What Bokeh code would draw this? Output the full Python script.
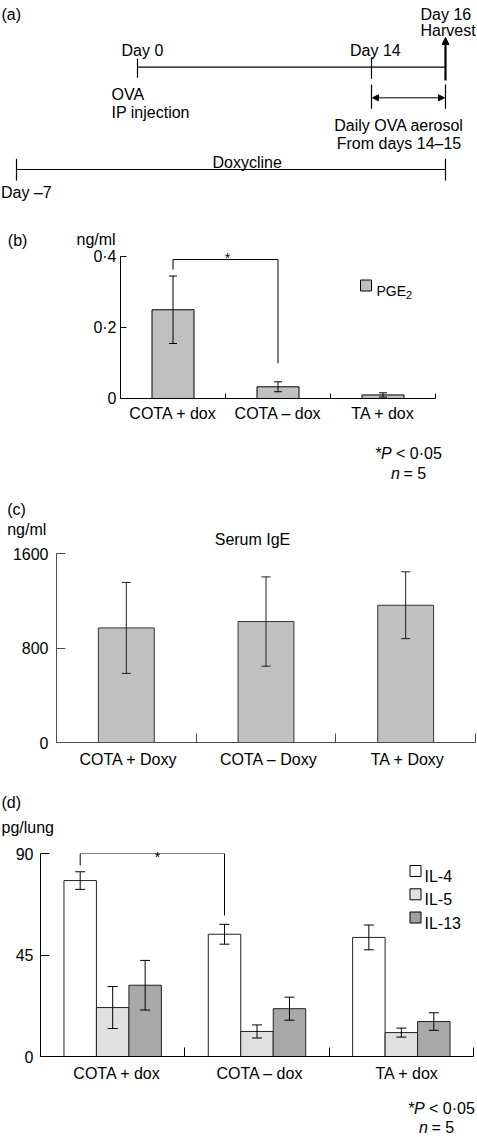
import numpy as np
from bokeh.plotting import figure
from bokeh.models import (Range1d, Label, Whisker, TeeHead, ColumnDataSource,
                          FixedTicker, Arrow, NormalHead)
from bokeh.embed import file_html
from bokeh.resources import INLINE

FONT = "Liberation Sans"

# ---------------- data ----------------
# (a) timeline (schematic, not to scale)
tl_days = [-7, 0, 14, 16]
tl_pos = [16, 137, 371, 445]          # schematic horizontal positions
tl_events = ["OVA", "IP injection"]
tl_aerosol = ["Daily OVA aerosol", "From days 14\u201315"]
tl_drug = "Doxycline"

# (b) PGE2
groups_b = ["COTA + dox", "COTA \u2013 dox", "TA + dox"]
pge2 = [0.250, 0.033, 0.010]
pge2_err = [0.095, 0.014, 0.006]
yticks_b = [0, 0.2, 0.4]
ylabels_b = ["0", "0\u00b72", "0\u00b74"]

# (c) Serum IgE
groups_c = ["COTA + Doxy", "COTA \u2013 Doxy", "TA + Doxy"]
ige = [970, 1024, 1162]
ige_err = [385, 378, 283]
yticks_c = [0, 800, 1600]

# (d) cytokines
groups_d = ["COTA + dox", "COTA \u2013 dox", "TA + dox"]
cyto_names = ["IL-4", "IL-5", "IL-13"]
il4 = [78.0, 54.2, 52.8]
il4_err = [3.9, 4.4, 5.5]
il5 = [21.7, 11.1, 10.6]
il5_err = [9.3, 2.9, 2.0]
il13 = [31.6, 21.2, 15.5]
il13_err = [11.0, 5.1, 3.9]
yticks_d = [0, 45, 90]

W = 477


def add_label(p, x, y, text, size="16px", align="left", style="normal",
              baseline="alphabetic", side=None):
    lbl = Label(x=x, y=y, text=text, text_font=FONT, text_font_size=size,
                text_align=align, text_baseline=baseline,
                text_font_style=style, text_color="black")
    if side is None:
        p.add_layout(lbl)
    else:
        p.add_layout(lbl, side)


def conv(g, px, py):
    l, r, t, b, x0, x1, y0, y1 = g
    return (x0 + (px - l) / (r - l) * (x1 - x0), y0 + (b - py) / (b - t) * (y1 - y0))


def text_fig(top, height):
    """Figure whose frame fills it; data coordinates equal page pixels."""
    return figure(width=W, height=height, x_range=Range1d(0, W),
                  y_range=Range1d(top + height, top), x_axis_type=None, y_axis_type=None,
                  toolbar_location=None, output_backend="svg", min_border=0,
                  outline_line_color=None, title=None)


def bar_fig(height, fig_top, geom, axis_color, ytick_len, ystand, xtick_len, xstand):
    l, r, t, b, x0, x1, y0, y1 = geom
    p = figure(width=W, height=height, x_range=Range1d(x0, x1), y_range=Range1d(y0, y1),
               toolbar_location=None, output_backend="svg", title=None,
               min_border_left=l, min_border_right=W - r,
               min_border_top=t - fig_top, min_border_bottom=(fig_top + height) - b,
               outline_line_color=None)
    p.xgrid.visible = False
    p.ygrid.visible = False
    for ax in (p.xaxis[0], p.yaxis[0]):
        ax.axis_line_color = axis_color
        ax.axis_line_width = 1
        ax.major_label_text_font = FONT
        ax.major_label_text_font_size = "16px"
        ax.major_label_text_color = "black"
        ax.major_tick_out = 0
        ax.minor_tick_out = 0
    p.yaxis.major_tick_in = ytick_len
    p.yaxis.minor_tick_in = 0
    p.yaxis.major_tick_line_color = axis_color
    p.yaxis.major_label_standoff = ystand
    p.xaxis.major_tick_line_color = None
    p.xaxis.minor_tick_in = xtick_len
    p.xaxis.minor_tick_line_color = axis_color
    p.xaxis.major_label_standoff = xstand
    return p


def whisk(p, xs, vals, errs, size, color="black"):
    src = ColumnDataSource(dict(x=list(xs), upper=[v + e for v, e in zip(vals, errs)],
                                lower=[v - e for v, e in zip(vals, errs)]))
    w = Whisker(source=src, base="x", upper="upper", lower="lower", line_color=color,
                line_width=1, level="overlay",
                upper_head=TeeHead(size=size, line_color=color, line_width=1),
                lower_head=TeeHead(size=size, line_color=color, line_width=1))
    p.add_layout(w)


def notes(p, x, y1, y2, dx_n, dx_eq):
    add_label(p, x, y1, "*")
    add_label(p, x + 5.5, y1, "P", style="italic")
    add_label(p, x + 20.5, y1, "< 0\u00b705")
    add_label(p, x + dx_n, y2, "n", style="italic")
    add_label(p, x + dx_n + dx_eq, y2, "= 5")


# ---------------- (a) timeline ----------------
pa = text_fig(0, 215)
xm7, x0, x14, x16 = tl_pos
day_txt = ["Day " + str(d).replace("-", "\u2013") for d in tl_days]

pa.segment(x0=[x0, x0, x14, x14, x16, xm7, xm7, x16],
           y0=[66.7, 58.3, 56.7, 84, 84, 169, 158.3, 158.3],
           x1=[x16, x0, x14, x14, x16, x16, xm7, x16],
           y1=[66.7, 77.3, 78.3, 108.3, 108.3, 169, 180, 180],
           line_color="black", line_width=1.2)
pa.add_layout(Arrow(end=NormalHead(size=7, fill_color="black", line_color="black", line_width=1),
                    x_start=x16, y_start=80, x_end=x16, y_end=37,
                    line_color="black", line_width=2.2))
pa.add_layout(Arrow(start=NormalHead(size=6, fill_color="black", line_color="black", line_width=1),
                    end=NormalHead(size=6, fill_color="black", line_color="black", line_width=1),
                    x_start=x14 + 1, y_start=97.3, x_end=x16 - 1, y_end=97.3,
                    line_color="black", line_width=1))

add_label(pa, 1, 13.5, "(a)")
add_label(pa, 420, 13.5, day_txt[3])
add_label(pa, 420, 29.5, "Harvest")
add_label(pa, 121, 49.5, day_txt[1])
add_label(pa, 349.5, 49.5, day_txt[2])
add_label(pa, 111, 93.5, tl_events[0])
add_label(pa, 111, 111.5, tl_events[1])
add_label(pa, 398.5, 125, tl_aerosol[0], align="center")
add_label(pa, 398.5, 143.3, tl_aerosol[1], align="center")
add_label(pa, 246.7, 161.7, tl_drug, align="center")
add_label(pa, 0.5, 191.7, day_txt[0])

# ---------------- (b) PGE2 ----------------
GB = (120, 435, 256, 398, 0, 3, 0, 0.4)
pb = bar_fig(215, 215, GB, "black", 6, 4, 5, 6)
xb = np.arange(3) + 0.5
pb.vbar(x=xb, top=pge2, width=0.4, fill_color="#c0c0c0", line_color="black", line_width=1)
whisk(pb, xb, pge2, pge2_err, 8)
pb.yaxis.ticker = FixedTicker(ticks=yticks_b, minor_ticks=[])
pb.yaxis.major_label_overrides = {t: s for t, s in zip(yticks_b, ylabels_b)}
pb.xaxis.ticker = FixedTicker(ticks=list(xb), minor_ticks=[1, 2, 3])
pb.xaxis.major_label_overrides = {float(t): s for t, s in zip(xb, groups_b)}
_, yb1 = conv(GB, 0, 269)
_, yb2 = conv(GB, 0, 259)
_, yb3 = conv(GB, 0, 362.7)
pb.line(x=[xb[0], xb[0], xb[1], xb[1]], y=[yb1, yb2, yb2, yb3], line_color="black", line_width=1)
add_label(pb, *conv(GB, 227, 257.5), "*", size="14px", align="center", side="above")
add_label(pb, *conv(GB, 7.3, 240), "(b)", side="left")
add_label(pb, *conv(GB, 76, 239), "ng/ml", side="left")
lx, ly = conv(GB, 365.5, 285)
pb.scatter(x=[lx], y=[ly], marker="square", size=11, fill_color="#c0c0c0", line_color="black")
add_label(pb, *conv(GB, 376, 290), "PGE", size="14px")
add_label(pb, *conv(GB, 405.5, 294), "2", size="11px")

pbn = text_fig(430, 58)
notes(pbn, 375, 453, 472.7, 15.5, 12.5)

# ---------------- (c) Serum IgE ----------------
GC = (56, 475, 553, 742, 0, 3, 0, 1600)
pc = bar_fig(287, 488, GC, "#4d4d4d", 9, 8, 9, 8)
xc = np.arange(3) + 0.5
pc.vbar(x=xc, top=ige, width=0.4, fill_color="#c0c0c0", line_color="#333333", line_width=1)
whisk(pc, xc, ige, ige_err, 9, color="#222222")
pc.yaxis.ticker = FixedTicker(ticks=yticks_c, minor_ticks=[])
lab_c = [0.515, 1.52, 2.515]
pc.xaxis.ticker = FixedTicker(ticks=lab_c, minor_ticks=[1, 2, 3])
pc.xaxis.major_label_overrides = {t: s for t, s in zip(lab_c, groups_c)}
add_label(pc, *conv(GC, 6.7, 509), "(c)", side="above")
add_label(pc, *conv(GC, 6.7, 529), "ng/ml", side="above")
add_label(pc, *conv(GC, 252, 539), "Serum IgE", align="center", side="above")

# ---------------- (d) cytokines ----------------
GD = (40, 473, 853, 1056, 0, 3, 0, 90)
pd_ = bar_fig(315, 775, GD, "black", 9, 7, 9, 8)
xd = np.arange(3) + 0.5
offs = [-0.225, 0.0, 0.225]
cols = ["white", "#e0e0e0", "#a8a8a8"]
series = [(il4, il4_err), (il5, il5_err), (il13, il13_err)]
for (vals, errs), off, col in zip(series, offs, cols):
    pd_.vbar(x=xd + off, top=vals, width=0.225, fill_color=col, line_color="#222222", line_width=1)
for (vals, errs), off in zip(series, offs):
    whisk(pd_, xd + off, vals, errs, 10)
pd_.yaxis.ticker = FixedTicker(ticks=yticks_d, minor_ticks=[])
lab_d = [0.53, 1.52, 2.54]
pd_.xaxis.ticker = FixedTicker(ticks=lab_d, minor_ticks=[1, 2, 3])
pd_.xaxis.major_label_overrides = {t: s for t, s in zip(lab_d, groups_d)}
_, yd1 = conv(GD, 0, 865)
_, yd3 = conv(GD, 0, 915)
xl, xr = xd[0] + offs[0], xd[1] + offs[0]
pd_.line(x=[xl, xl, xr, xr], y=[yd1, yticks_d[-1], yticks_d[-1], yd3], line_color="black", line_width=1)
add_label(pd_, *conv(GD, 157, 856.5), "*", size="14px", align="center", side="above")
add_label(pd_, *conv(GD, 1, 802.3), "(d)", side="above")
add_label(pd_, *conv(GD, 1, 827.3), "pg/lung", side="above")
leg_cols = ["white", "#e0e0e0", "#a0a0a0"]
leg_y = [870.5, 893.8, 917]
leg_base = [876, 899.3, 922.7]
for name, col, yy, yb in zip(cyto_names, leg_cols, leg_y, leg_base):
    sx, sy = conv(GD, 415, yy)
    pd_.scatter(x=[sx], y=[sy], marker="square", size=11, fill_color=col, line_color="black")
    add_label(pd_, *conv(GD, 424, yb), name)

pdn = text_fig(1090, 45)
notes(pdn, 408, 1108, 1127, 10.5, 12.5)

open("out.html", "w").write(file_html([pa, pb, pbn, pc, pd_, pdn], INLINE))
